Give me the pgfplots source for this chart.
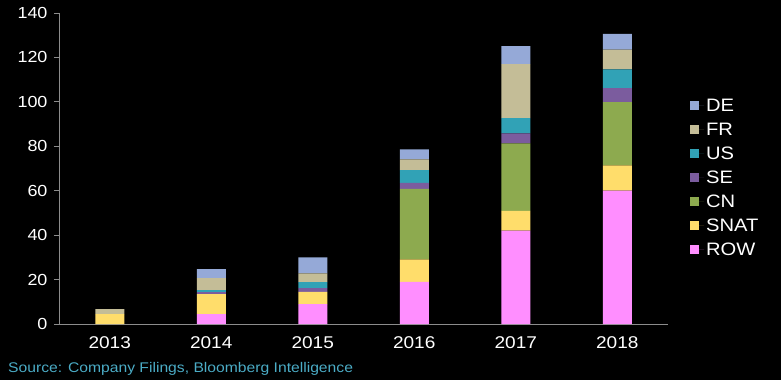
\documentclass[border=0pt]{standalone}
\usepackage{pgfplots}
\pgfplotsset{compat=1.18}
\usepackage{fontspec}
\setmainfont{Liberation Sans}[FakeStretch=1.12]
\definecolor{cDE}{HTML}{95A9D7}
\definecolor{cFR}{HTML}{C4BD97}
\definecolor{cUS}{HTML}{31A2B6}
\definecolor{cSE}{HTML}{7B5C9E}
\definecolor{cCN}{HTML}{8DAA4F}
\definecolor{cSNAT}{HTML}{FFDD6B}
\definecolor{cROW}{HTML}{FF8EFF}
\definecolor{axgray}{HTML}{8C8C8C}
\definecolor{srcblue}{HTML}{4BACC6}
\begin{document}
\begin{tikzpicture}
\fill[black] (0pt,0pt) rectangle (781pt,380pt);
\begin{axis}[
  at={(59pt,56pt)}, anchor=south west,
  scale only axis, width=609pt, height=311pt,
  ybar stacked, bar width=29pt,
  xmin=-0.5, xmax=5.5, ymin=0, ymax=140,
  xtick={0,1,2,3,4,5}, xticklabels={2013,2014,2015,2016,2017,2018},
  extra x ticks={-0.5,0.5,1.5,2.5,3.5,4.5,5.5},
  extra x tick labels={},
  extra x tick style={major tick length=5pt, tick align=outside, tick style={axgray, line width=0.8pt}},
  ytick={0,20,...,140},
  axis x line*=bottom, axis y line*=left,
  axis line style={axgray, line width=0.8pt, -},
  x tick style={draw=none},
  y tick style={axgray, line width=0.8pt},
  major tick length=5pt, tick align=outside,
  tick label style={white, font=\fontsize{16}{18}\selectfont},
  xticklabel style={font=\fontsize{17}{18}\selectfont, yshift=-4pt},
  /pgf/number format/assume math mode=true,
  yticklabel style={xshift=-3pt},
  reverse legend,
  legend style={at={(1.036,0.731)}, anchor=north west, draw=none, fill=none,
    text=white, font=\fontsize{18}{19}\selectfont,
    row sep=6.0pt, cells={anchor=west}, inner sep=0pt},
  legend image code/.code={\fill[#1] (0pt,-4.5pt) rectangle (9pt,4.5pt); \path (0pt,0pt) -- (14pt,0pt);},
]
\addplot[fill=cROW, draw=none] coordinates {(0,0) (1,4.5) (2,9.0) (3,19.0) (4,42.0) (5,60.0)};
\addplot[fill=cSNAT, draw=none] coordinates {(0,4.5) (1,8.9) (2,5.5) (3,10.1) (4,8.9) (5,11.4)};
\addplot[fill=cCN, draw=none] coordinates {(0,0) (1,0) (2,0) (3,31.7) (4,30.4) (5,28.5)};
\addplot[fill=cSE, draw=none] coordinates {(0,0) (1,0.9) (2,1.6) (3,2.7) (4,4.5) (5,6.3)};
\addplot[fill=cUS, draw=none] coordinates {(0,0) (1,0.9) (2,2.8) (3,5.8) (4,6.9) (5,8.4)};
\addplot[fill=cFR, draw=none] coordinates {(0,2.2) (1,5.5) (2,3.9) (3,4.8) (4,24.3) (5,8.9)};
\addplot[fill=cDE, draw=none] coordinates {(0,0) (1,4.0) (2,7.2) (3,4.5) (4,8.1) (5,7.1)};
\legend{ROW,SNAT,CN,SE,US,FR,DE}
\end{axis}
\node[anchor=base west, inner sep=0pt, text=srcblue, font=\fontsize{14}{16}\selectfont] at (8pt,8pt) {Source: Company Filings, Bloomberg Intelligence};
\end{tikzpicture}
\end{document}
